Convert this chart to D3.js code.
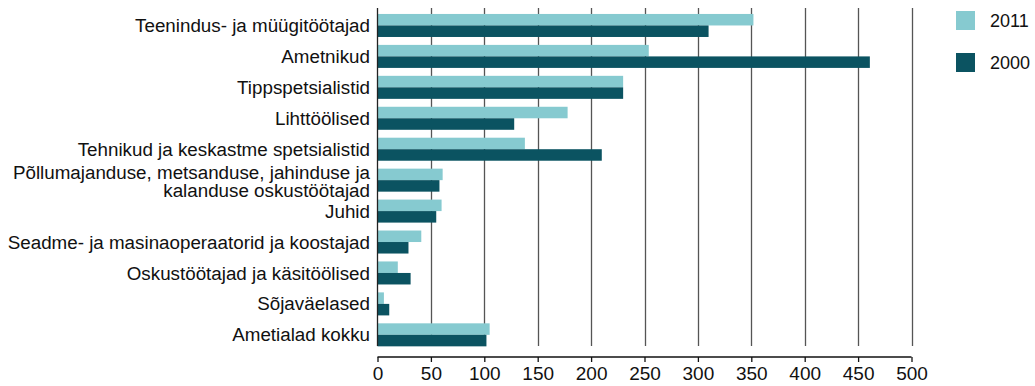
<!DOCTYPE html>
<html>
<head>
<meta charset="utf-8">
<script src="https://cdn.jsdelivr.net/npm/d3@7"></script>
<style>
  html, body { margin: 0; padding: 0; background: #fff; }
  svg { display: block; font-family: "Liberation Sans", Arial, sans-serif; }
</style>
</head>
<body>
<svg id="chart" width="1035" height="386"></svg>
<script>
const categories = [
  ["Teenindus- ja müügitöötajad"],
  ["Ametnikud"],
  ["Tippspetsialistid"],
  ["Lihttöölised"],
  ["Tehnikud ja keskastme spetsialistid"],
  ["Põllumajanduse, metsanduse, jahinduse ja", "kalanduse oskustöötajad"],
  ["Juhid"],
  ["Seadme- ja masinaoperaatorid ja koostajad"],
  ["Oskustöötajad ja käsitöölised"],
  ["Sõjaväelased"],
  ["Ametialad kokku"]
];
const values2011 = [352, 254, 230, 178, 138, 61, 60, 41, 19, 6, 105];
const values2000 = [310, 461, 230, 128, 210, 58, 55, 29, 31, 11, 102];
const seriesNames = ["2011", "2000"];
const seriesColors = ["#86CAD0", "#0B5361"];
const xTicks = [0, 50, 100, 150, 200, 250, 300, 350, 400, 450, 500];

const svg = d3.select("#chart");
const x = d3.scaleLinear().domain([0, 500]).range([377.5, 911.5]);
const ids = categories.map((c, i) => i);
const y = d3.scaleBand().domain(ids).range([10, 350.3]).paddingInner(0.256).paddingOuter(0.128);
const ySub = d3.scaleBand().domain([0, 1]).range([0, y.bandwidth()]);

// gridlines
svg.append("g").selectAll("line").data(xTicks.slice(1)).join("line")
  .attr("x1", d => Math.round(x(d)) + 0.5).attr("x2", d => Math.round(x(d)) + 0.5)
  .attr("y1", 8).attr("y2", 346)
  .attr("stroke", "#555").attr("stroke-width", 1.3);

// bars
const series = [values2011, values2000];
series.forEach((vals, s) => {
  svg.append("g").selectAll("rect").data(vals).join("rect")
    .attr("x", x(0))
    .attr("y", (d, i) => y(i) + ySub(s))
    .attr("width", d => x(d) - x(0))
    .attr("height", ySub.bandwidth())
    .attr("fill", seriesColors[s]);
});

// left axis line
svg.append("line").attr("x1", 377.5).attr("x2", 377.5).attr("y1", 8).attr("y2", 346)
  .attr("stroke", "#222").attr("stroke-width", 1.3);

// category labels
const lab = svg.append("g").attr("font-size", 18.8).attr("fill", "#111").attr("text-anchor", "end");
categories.forEach((lines, i) => {
  const cy = y(i) + y.bandwidth() / 2;
  const t = lab.append("text").attr("x", 370).attr("y", cy);
  lines.forEach((ln, k) => {
    const off = (k - (lines.length - 1) / 2) * 17.5 + (lines.length > 1 ? 1.5 : 0);
    t.append("tspan").attr("x", 370).attr("y", cy + off).attr("dy", "0.35em").text(ln);
  });
});

// x axis
const xAxis = d3.axisBottom(x).tickValues(xTicks).tickSize(5).tickPadding(5);
const ax = svg.append("g").attr("transform", "translate(0,357)").call(xAxis);
ax.select(".domain").attr("stroke", "#111").attr("stroke-width", 1.3).attr("d", `M${x(0)},0H${x(500)}`);
ax.selectAll(".tick line").attr("stroke", "#111").attr("stroke-width", 1.3);
ax.selectAll(".tick text").attr("font-size", 19).attr("fill", "#111")
  .attr("font-family", "'Liberation Sans', Arial, sans-serif");

// legend
const leg = svg.append("g");
seriesNames.forEach((n, i) => {
  const gy = 11 + i * 42;
  leg.append("rect").attr("x", 956).attr("y", gy).attr("width", 19).attr("height", 19).attr("fill", seriesColors[i]);
  leg.append("text").attr("x", 990).attr("y", gy + 16).attr("font-size", 18).attr("fill", "#111").text(n);
});
</script>
</body>
</html>
